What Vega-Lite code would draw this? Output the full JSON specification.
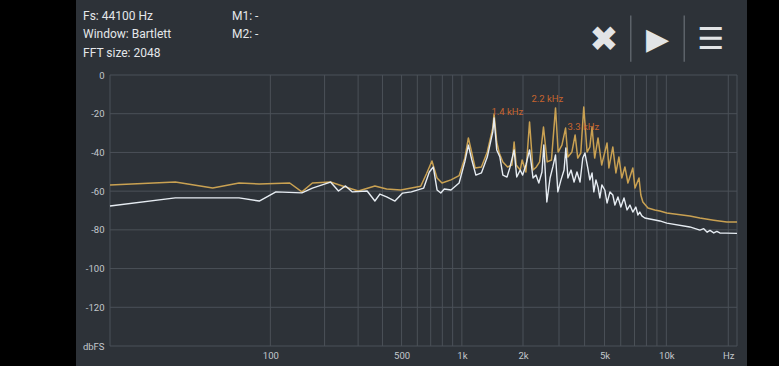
{
  "$schema": "https://vega.github.io/schema/vega-lite/v6.json",
  "width": 671,
  "height": 366,
  "padding": {"left": 76, "right": 32, "top": 0, "bottom": 0},
  "autosize": {"type": "none"},
  "background": "#000000",
  "config": {"view": {"fill": "#2d3238", "stroke": null}, "font": "Roboto"},
  "datasets": {
    "hgrid": [{"db": 0}, {"db": -20}, {"db": -40}, {"db": -60}, {"db": -80}, {"db": -100}, {"db": -120}, {"db": -140}],
    "vgrid": [{"f": 0}, {"f": 100}, {"f": 200}, {"f": 300}, {"f": 400}, {"f": 500}, {"f": 600}, {"f": 700}, {"f": 800}, {"f": 900}, {"f": 1000}, {"f": 2000}, {"f": 3000}, {"f": 4000}, {"f": 5000}, {"f": 6000}, {"f": 7000}, {"f": 8000}, {"f": 9000}, {"f": 10000}, {"f": 20000}, {"f": 22050}],
    "peak": [
      {"f": 0, "db": -56.8}, {"f": 21.5, "db": -55.3}, {"f": 43, "db": -58.4}, {"f": 64.6, "db": -55.8}, {"f": 86, "db": -56.3}, {"f": 129, "db": -55.8}, {"f": 150.7, "db": -60.4}, {"f": 172, "db": -55.8}, {"f": 215, "db": -55.3}, {"f": 258, "db": -57.9}, {"f": 301, "db": -59.9}, {"f": 366, "db": -57.3}, {"f": 420, "db": -58.9}, {"f": 495, "db": -59.4}, {"f": 560, "db": -58.4}, {"f": 624, "db": -57.5}, {"f": 667, "db": -51}, {"f": 710, "db": -44.4}, {"f": 753, "db": -53.2}, {"f": 797, "db": -55.8}, {"f": 883, "db": -54.2}, {"f": 969, "db": -52}, {"f": 1034, "db": -43}, {"f": 1077, "db": -32.5}, {"f": 1120, "db": -40.3}, {"f": 1163, "db": -48}, {"f": 1249, "db": -47.5}, {"f": 1335, "db": -39.8}, {"f": 1421, "db": -27.4}, {"f": 1442, "db": -20.1}, {"f": 1486, "db": -34.6}, {"f": 1529, "db": -40.3}, {"f": 1593, "db": -44.9}, {"f": 1680, "db": -47.5}, {"f": 1766, "db": -46.5}, {"f": 1809, "db": -34.6}, {"f": 1852, "db": -46.5}, {"f": 1938, "db": -49.1}, {"f": 1981, "db": -43.9}, {"f": 2067, "db": -50.1}, {"f": 2153, "db": -24.3}, {"f": 2239, "db": -49.1}, {"f": 2325, "db": -47.5}, {"f": 2412, "db": -44.9}, {"f": 2519, "db": -26.9}, {"f": 2627, "db": -44.9}, {"f": 2756, "db": -43.9}, {"f": 2885, "db": -17}, {"f": 2971, "db": -39.8}, {"f": 3100, "db": -36.2}, {"f": 3230, "db": -27.4}, {"f": 3316, "db": -42.4}, {"f": 3467, "db": -39.8}, {"f": 3596, "db": -31}, {"f": 3704, "db": -42.9}, {"f": 3833, "db": -40.3}, {"f": 3962, "db": -16.5}, {"f": 4113, "db": -39.8}, {"f": 4242, "db": -37.2}, {"f": 4350, "db": -26.9}, {"f": 4479, "db": -42.9}, {"f": 4651, "db": -32.5}, {"f": 4845, "db": -46.5}, {"f": 5146, "db": -35.1}, {"f": 5254, "db": -48}, {"f": 5491, "db": -37.2}, {"f": 5684, "db": -50.6}, {"f": 5878, "db": -42.4}, {"f": 6072, "db": -53.2}, {"f": 6287, "db": -47.5}, {"f": 6503, "db": -55.8}, {"f": 6869, "db": -48}, {"f": 7041, "db": -58.4}, {"f": 7364, "db": -53.2}, {"f": 7515, "db": -62}, {"f": 7687, "db": -65.6}, {"f": 8139, "db": -68.7}, {"f": 8785, "db": -69.7}, {"f": 9302, "db": -70.3}, {"f": 10056, "db": -71.3}, {"f": 13006, "db": -72.8}, {"f": 14556, "db": -73.9}, {"f": 17000, "db": -75}, {"f": 19681, "db": -75.9}, {"f": 22050, "db": -75.9}
    ],
    "live": [
      {"f": 0, "db": -67.7}, {"f": 21.5, "db": -63.5}, {"f": 64.6, "db": -63.5}, {"f": 86, "db": -65.1}, {"f": 107.7, "db": -60.4}, {"f": 150.7, "db": -60.9}, {"f": 172, "db": -58.4}, {"f": 215, "db": -55.3}, {"f": 237, "db": -59.9}, {"f": 258, "db": -57.3}, {"f": 280, "db": -60.4}, {"f": 334, "db": -59.9}, {"f": 366, "db": -65.1}, {"f": 388, "db": -61.5}, {"f": 420, "db": -63}, {"f": 463, "db": -65.1}, {"f": 506, "db": -61}, {"f": 560, "db": -60.4}, {"f": 646, "db": -58.4}, {"f": 689, "db": -50.1}, {"f": 721, "db": -47.5}, {"f": 753, "db": -59.4}, {"f": 786, "db": -61}, {"f": 818, "db": -58.9}, {"f": 883, "db": -59.4}, {"f": 969, "db": -55.8}, {"f": 1034, "db": -44.9}, {"f": 1077, "db": -36.2}, {"f": 1120, "db": -43.9}, {"f": 1173, "db": -51.7}, {"f": 1249, "db": -50.6}, {"f": 1335, "db": -42.4}, {"f": 1421, "db": -29.4}, {"f": 1442, "db": -22.2}, {"f": 1486, "db": -38.7}, {"f": 1540, "db": -42.4}, {"f": 1593, "db": -51.7}, {"f": 1669, "db": -52.7}, {"f": 1723, "db": -48}, {"f": 1809, "db": -38.7}, {"f": 1863, "db": -52.7}, {"f": 1938, "db": -49.1}, {"f": 1992, "db": -51.7}, {"f": 2067, "db": -46.5}, {"f": 2153, "db": -38.7}, {"f": 2239, "db": -53.2}, {"f": 2315, "db": -51.7}, {"f": 2390, "db": -55.8}, {"f": 2476, "db": -50.1}, {"f": 2530, "db": -36.2}, {"f": 2616, "db": -65.6}, {"f": 2713, "db": -53.2}, {"f": 2799, "db": -47.5}, {"f": 2885, "db": -41.3}, {"f": 2961, "db": -60.4}, {"f": 3068, "db": -54.2}, {"f": 3176, "db": -49.1}, {"f": 3240, "db": -37.7}, {"f": 3316, "db": -53.2}, {"f": 3434, "db": -49.1}, {"f": 3553, "db": -55.3}, {"f": 3671, "db": -50.1}, {"f": 3800, "db": -55.3}, {"f": 3919, "db": -42.9}, {"f": 4016, "db": -40.3}, {"f": 4145, "db": -48}, {"f": 4242, "db": -54.2}, {"f": 4350, "db": -50.6}, {"f": 4436, "db": -60.4}, {"f": 4544, "db": -54.2}, {"f": 4651, "db": -57.9}, {"f": 4748, "db": -63.5}, {"f": 4856, "db": -56.8}, {"f": 5017, "db": -59.4}, {"f": 5146, "db": -66.1}, {"f": 5319, "db": -60.4}, {"f": 5491, "db": -62}, {"f": 5620, "db": -67.2}, {"f": 5814, "db": -63}, {"f": 6008, "db": -68.2}, {"f": 6223, "db": -63.5}, {"f": 6438, "db": -69.7}, {"f": 6653, "db": -67.2}, {"f": 6869, "db": -70.8}, {"f": 7105, "db": -68.2}, {"f": 7278, "db": -72.3}, {"f": 7429, "db": -70.8}, {"f": 7601, "db": -72.8}, {"f": 7859, "db": -73.9}, {"f": 8312, "db": -74.4}, {"f": 8807, "db": -74.9}, {"f": 9302, "db": -75.4}, {"f": 10056, "db": -76.5}, {"f": 13006, "db": -78.5}, {"f": 14556, "db": -80.1}, {"f": 15200, "db": -79.4}, {"f": 15800, "db": -81.2}, {"f": 16300, "db": -80.3}, {"f": 17000, "db": -81.6}, {"f": 17600, "db": -80.8}, {"f": 18200, "db": -81.6}, {"f": 19500, "db": -81.7}, {"f": 22050, "db": -81.8}
    ],
    "markers": [
      {"f": 1400, "db": -19, "label": "1.4 kHz"},
      {"f": 2200, "db": -12.4, "label": "2.2 kHz"},
      {"f": 3300, "db": -26.9, "label": "3.3 kHz"}
    ],
    "info": [
      {"t": "Fs: 44100 Hz", "col": 1, "line": 1},
      {"t": "Window: Bartlett", "col": 1, "line": 2},
      {"t": "FFT size: 2048", "col": 1, "line": 3},
      {"t": "M1: -", "col": 2, "line": 1},
      {"t": "M2: -", "col": 2, "line": 2}
    ],
    "icons": [
      {"icon": "✖", "k": 1},
      {"icon": "▶", "k": 2},
      {"icon": "☰", "k": 3}
    ],
    "seps": [{"k": 1.5}, {"k": 2.5}]
  },
  "layer": [
    {
      "data": {"name": "hgrid"},
      "mark": {"type": "rule", "color": "#4b5158", "strokeWidth": 1},
      "encoding": {
        "y": {"field": "db", "type": "quantitative",
          "scale": {"domain": [-140, 0], "range": [346, 75], "nice": false, "zero": false},
          "axis": {"values": [0, -20, -40, -60, -80, -100, -120, -140], "labelExpr": "datum.value == -140 ? 'dbFS' : '' + datum.value", "grid": false, "ticks": false, "domain": false, "offset": -34, "labelPadding": 6, "labelColor": "#c3c8cd", "labelFontSize": 9.5, "labelFont": "Roboto", "labelOverlap": false, "labelFlush": false, "title": null}},
        "x": {"datum": 0, "type": "quantitative",
          "scale": {"type": "symlog", "constant": 20, "domain": [0, 22050], "range": [34, 661], "nice": false, "zero": false},
          "axis": null},
        "x2": {"datum": 22050}
      }
    },
    {
      "data": {"name": "vgrid"},
      "mark": {"type": "rule", "color": "#4b5158", "strokeWidth": 1},
      "encoding": {
        "x": {"field": "f", "type": "quantitative",
          "scale": {"type": "symlog", "constant": 20, "domain": [0, 22050], "range": [34, 661], "nice": false, "zero": false},
          "axis": {"values": [100, 500, 1000, 2000, 5000, 10000, 20000], "labelExpr": "datum.value == 20000 ? 'Hz' : (datum.value >= 1000 ? (datum.value / 1000) + 'k' : '' + datum.value)", "grid": false, "ticks": false, "domain": false, "offset": -20, "labelPadding": 4, "labelColor": "#c3c8cd", "labelFontSize": 9.5, "labelFont": "Roboto", "labelOverlap": false, "labelFlush": false, "title": null}},
        "y": {"datum": 0, "type": "quantitative",
          "scale": {"domain": [-140, 0], "range": [346, 75], "nice": false, "zero": false},
          "axis": null},
        "y2": {"datum": -140}
      }
    },
    {
      "data": {"name": "peak"},
      "mark": {"type": "line", "color": "#c9a152", "strokeWidth": 1.5, "strokeJoin": "round"},
      "encoding": {
        "x": {"field": "f", "type": "quantitative", "scale": {"type": "symlog", "constant": 20, "domain": [0, 22050], "range": [34, 661], "nice": false, "zero": false}, "axis": null},
        "y": {"field": "db", "type": "quantitative", "scale": {"domain": [-140, 0], "range": [346, 75], "nice": false, "zero": false}, "axis": null}
      }
    },
    {
      "data": {"name": "live"},
      "mark": {"type": "line", "color": "#e6ecf2", "strokeWidth": 1.4, "strokeJoin": "round"},
      "encoding": {
        "x": {"field": "f", "type": "quantitative", "scale": {"type": "symlog", "constant": 20, "domain": [0, 22050], "range": [34, 661], "nice": false, "zero": false}, "axis": null},
        "y": {"field": "db", "type": "quantitative", "scale": {"domain": [-140, 0], "range": [346, 75], "nice": false, "zero": false}, "axis": null}
      }
    },
    {
      "data": {"name": "markers"},
      "mark": {"type": "text", "color": "#c8652e", "fontSize": 9.5, "font": "Roboto", "align": "left", "baseline": "middle", "letterSpacing": 0.4},
      "encoding": {
        "x": {"field": "f", "type": "quantitative", "scale": {"type": "symlog", "constant": 20, "domain": [0, 22050], "range": [34, 661], "nice": false, "zero": false}, "axis": null},
        "y": {"field": "db", "type": "quantitative", "scale": {"domain": [-140, 0], "range": [346, 75], "nice": false, "zero": false}, "axis": null},
        "text": {"field": "label"}
      }
    },
    {
      "data": {"name": "info"},
      "mark": {"type": "text", "color": "#e4e7ea", "fontSize": 12, "font": "Roboto", "align": "left", "baseline": "middle"},
      "encoding": {
        "x": {"field": "col", "type": "quantitative", "scale": {"domain": [1, 2], "range": [7, 156], "nice": false, "zero": false}, "axis": null},
        "y": {"field": "line", "type": "quantitative", "scale": {"domain": [1, 3], "range": [15.5, 53.3], "nice": false, "zero": false}, "axis": null},
        "text": {"field": "t"}
      }
    },
    {
      "data": {"name": "seps"},
      "mark": {"type": "rule", "color": "#5c6269", "strokeWidth": 1.5},
      "encoding": {
        "x": {"field": "k", "type": "quantitative", "scale": {"domain": [1, 3], "range": [528, 635], "nice": false, "zero": false}, "axis": null},
        "y": {"datum": 1, "type": "quantitative", "scale": {"domain": [1, 3], "range": [15.5, 53.3], "nice": false, "zero": false}, "axis": null},
        "y2": {"datum": 3.45}
      }
    },
    {
      "data": {"name": "icons"},
      "transform": [{"filter": "datum.k > 1"}],
      "mark": {"type": "text", "color": "#e2e4e6", "fontSize": 30, "font": "DejaVu Sans", "align": "center", "baseline": "middle"},
      "encoding": {
        "x": {"field": "k", "type": "quantitative", "scale": {"domain": [1, 3], "range": [528, 635], "nice": false, "zero": false}, "axis": null},
        "y": {"datum": 2.32, "type": "quantitative", "scale": {"domain": [1, 3], "range": [15.5, 53.3], "nice": false, "zero": false}, "axis": null},
        "text": {"field": "icon"}
      }
    },
    {
      "data": {"name": "icons"},
      "transform": [{"filter": "datum.k == 1"}],
      "mark": {"type": "text", "color": "#e2e4e6", "fontSize": 35, "font": "DejaVu Sans", "align": "center", "baseline": "middle"},
      "encoding": {
        "x": {"field": "k", "type": "quantitative", "scale": {"domain": [1, 3], "range": [528, 635], "nice": false, "zero": false}, "axis": null},
        "y": {"datum": 2.3, "type": "quantitative", "scale": {"domain": [1, 3], "range": [15.5, 53.3], "nice": false, "zero": false}, "axis": null},
        "text": {"field": "icon"}
      }
    }
  ],
  "resolve": {"scale": {"x": "independent", "y": "independent"}}
}
